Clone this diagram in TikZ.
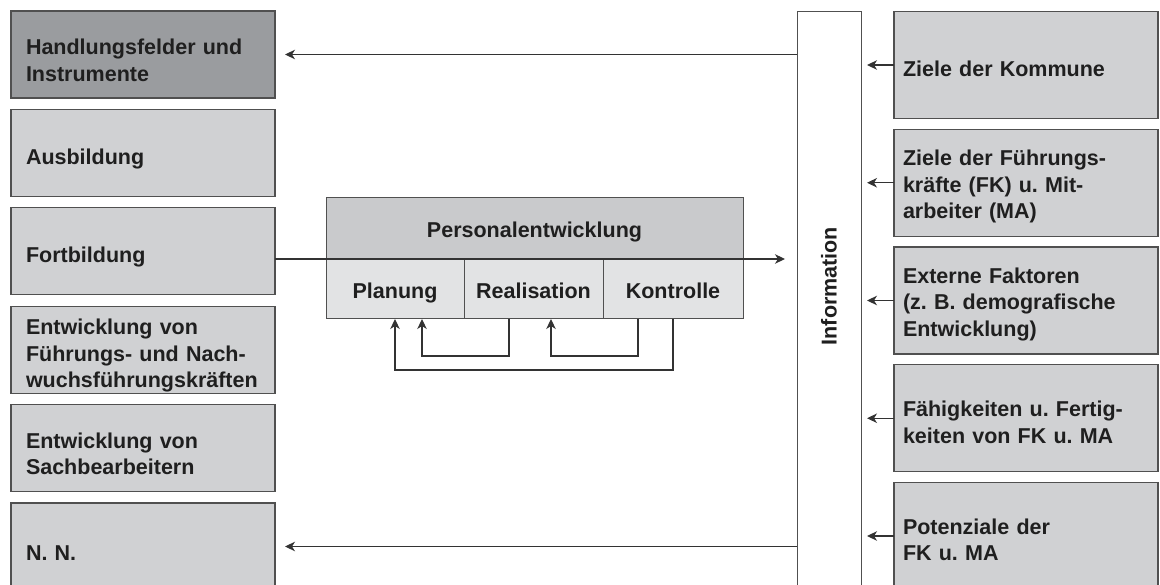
\documentclass[tikz,border=0pt]{standalone}
\usepackage{fontspec}
\setmainfont{Liberation Sans}
\usetikzlibrary{arrows.meta}
\frenchspacing
\definecolor{darkbox}{HTML}{9A9C9F}
\definecolor{lightbox}{HTML}{D0D1D3}
\definecolor{pehead}{HTML}{C9CACC}
\definecolor{pecell}{HTML}{E2E3E4}
\definecolor{rim}{HTML}{505050}

\begin{document}
\begin{tikzpicture}[x=1pt,y=-1pt,
  every node/.style={outer sep=0pt, font=\bfseries\fontsize{21.5}{26.5}\selectfont, text=black!88},
  leftbox/.style={draw=rim, line width=1.2pt, fill=lightbox, text width=234pt, inner xsep=15pt, inner ysep=0pt, minimum height=87pt, align=left, text height=27.5pt},
  rightbox/.style={draw=rim, line width=1.2pt, fill=lightbox, text width=246pt, inner xsep=9pt, inner ysep=0pt, minimum height=107pt, align=left, text height=23.5pt},
  pebox/.style={draw=rim, line width=1pt, inner sep=0pt, text height=19pt, text depth=0pt},
  arr/.style={-{Stealth[length=10pt,width=9.5pt,inset=3pt]}, line width=1.1pt, draw=black!80}]
\clip (0,0) rectangle (1160,585);
\fill[white] (0,0) rectangle (1160,585);

\node[leftbox, fill=darkbox] (hf) at (143,54.5) {Handlungsfelder und\\Instrumente};
\node[leftbox] (ab) at (143,152.9) {Ausbildung};
\node[leftbox] (fb) at (143,251.3) {Fortbildung};
\node[leftbox] (fn) at (143,349.7) {Entwicklung von\\Führungs- und Nach-\\wuchsführungskräften};
\node[leftbox] (sb) at (143,448.1) {Entwicklung von\\Sachbearbeitern};
\node[leftbox] (nn) at (143,546.5) {N. N.};

\node[rightbox] (zk) at (1026,65) {Ziele der Kommune};
\node[rightbox] (zf) at (1026,182.75) {Ziele der Führungs-\\kräfte (FK) u. Mit-\\arbeiter (MA)};
\node[rightbox] (ef) at (1026,300.5) {Externe Faktoren\\(z. B. demografische\\Entwicklung)};
\node[rightbox] (ff) at (1026,418.25) {Fähigkeiten u. Fertig-\\keiten von FK u. MA};
\node[rightbox] (pz) at (1026,536) {Potenziale der\\FK u. MA};

\node[draw=rim, line width=1pt, fill=white, minimum width=64pt, minimum height=600pt, anchor=north west] (info) at (797,12) {};
\node[rotate=90] (infolabel) at (829,286) {Information};

\node[pebox, fill=pehead, minimum width=417pt, minimum height=61pt] (pe) at (534.5,228.5) {Personalentwicklung};
\node[pebox, fill=pecell, minimum width=138pt, minimum height=60pt] (plan) at (395,289) {Planung};
\node[pebox, fill=pecell, minimum width=139pt, minimum height=60pt] (real) at (533.5,289) {Realisation};
\node[pebox, fill=pecell, minimum width=140pt, minimum height=60pt] (kontr) at (673,289) {Kontrolle};

\draw[arr, shorten >=10pt] (info.west |- hf.east) -- (hf.east);
\draw[arr, shorten >=10pt] (info.west |- nn.east) -- (nn.east);
\draw[arr] (fb.east |- plan.north) -- ([xshift=-12pt]info.west |- plan.north);

\draw[arr, shorten >=6pt] (zk.west) -- (zk.west -| info.east);
\draw[arr, shorten >=6pt] (zf.west) -- (zf.west -| info.east);
\draw[arr, shorten >=6pt] (ef.west) -- (ef.west -| info.east);
\draw[arr, shorten >=6pt] (ff.west) -- (ff.west -| info.east);
\draw[arr, shorten >=6pt] (pz.west) -- (pz.west -| info.east);

\draw[arr] (kontr.south) -- ++(0,51) -| (plan.south);
\draw[arr] ([xshift=-24.5pt]real.south) -- ++(0,37) -| ([xshift=27pt]plan.south);
\draw[arr] ([xshift=-35pt]kontr.south) -- ++(0,37) -| ([xshift=17.5pt]real.south);
\end{tikzpicture}
\end{document}
